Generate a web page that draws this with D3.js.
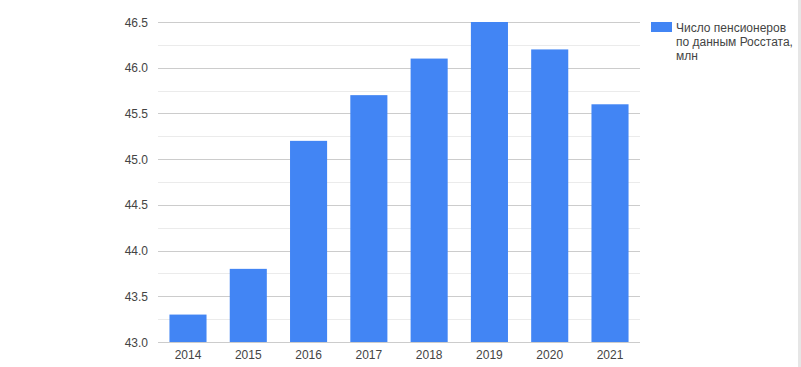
<!DOCTYPE html>
<html><head><meta charset="utf-8">
<script src="https://cdn.jsdelivr.net/npm/d3@7"></script>
<style>body{margin:0;background:#fff;}svg{display:block;font-family:"Liberation Sans",Arial,sans-serif;}</style>
</head><body>
<svg id="c" width="801" height="367"></svg>
<script>
const years = ["2014","2015","2016","2017","2018","2019","2020","2021"];
const pensioners = [43.3, 43.8, 45.2, 45.7, 46.1, 46.5, 46.2, 45.6];
const yTicks = [43.0, 43.5, 44.0, 44.5, 45.0, 45.5, 46.0, 46.5];
const yMinor = [43.25, 43.75, 44.25, 44.75, 45.25, 45.75, 46.25];
const legendLines = ["Число пенсионеров", "по данным Росстата,", "млн"];

const svg = d3.select("#c");
const L = 158, R = 640, T = 22, B = 342;
const x = d3.scaleBand().domain(years).range([L, R]).paddingInner(0.385).paddingOuter(0.19);
const y = d3.scaleLinear().domain([43.0, 46.5]).range([B, T]);

svg.append("rect").attr("x", 798).attr("y", 0).attr("width", 3).attr("height", 367).attr("fill", "#e6e6e6");

svg.selectAll("line.minor").data(yMinor).enter().append("line")
  .attr("x1", L).attr("x2", R).attr("y1", d => Math.round(y(d)) + 0.5).attr("y2", d => Math.round(y(d)) + 0.5)
  .attr("stroke", "#ebebeb");
svg.selectAll("line.major").data(yTicks).enter().append("line")
  .attr("x1", L).attr("x2", R).attr("y1", d => Math.round(y(d)) + 0.5).attr("y2", d => Math.round(y(d)) + 0.5)
  .attr("stroke", "#cccccc");

svg.selectAll("text.yl").data(yTicks).enter().append("text")
  .attr("x", 148).attr("y", d => y(d) + 4.5).attr("text-anchor", "end")
  .attr("font-size", 12).attr("fill", "#444").text(d => d.toFixed(1));

svg.selectAll("rect.bar").data(pensioners).enter().append("rect")
  .attr("x", (d, i) => x(years[i])).attr("width", x.bandwidth())
  .attr("y", d => y(d)).attr("height", d => y(43.0) - y(d))
  .attr("fill", "#4285f4");

svg.selectAll("text.xl").data(years).enter().append("text")
  .attr("x", d => x(d) + x.bandwidth() / 2).attr("y", 359).attr("text-anchor", "middle")
  .attr("font-size", 12).attr("fill", "#444").text(d => d);

svg.append("rect").attr("x", 651).attr("y", 22).attr("width", 21).attr("height", 10).attr("fill", "#4285f4");
svg.selectAll("text.lg").data(legendLines).enter().append("text")
  .attr("x", 676).attr("y", (d, i) => 32 + i * 14).attr("font-size", 12).attr("fill", "#444").text(d => d);
</script>
</body></html>
